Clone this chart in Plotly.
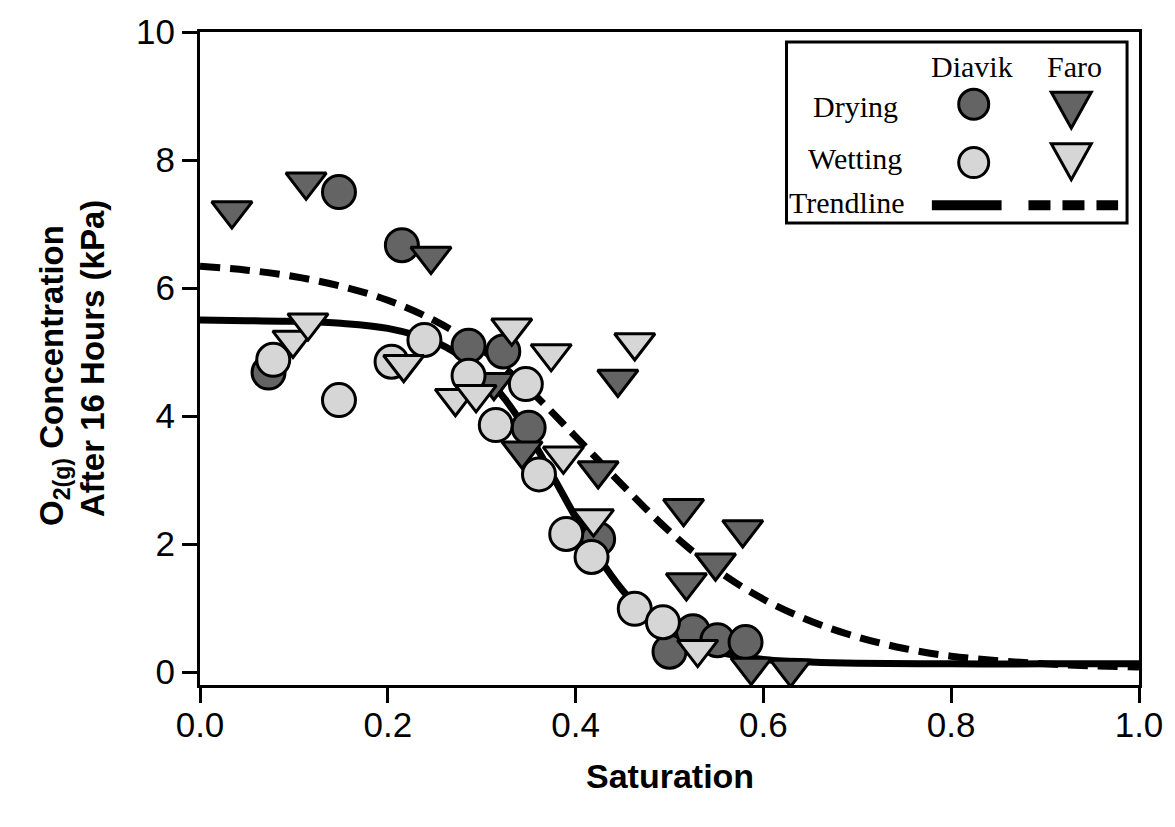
import plotly.graph_objects as go

# ---- data ----
diavik_dry_x = [0.073, 0.148, 0.215, 0.286, 0.323, 0.350, 0.424, 0.500, 0.525, 0.551, 0.581]
diavik_dry_y = [4.68, 7.50, 6.67, 5.10, 5.01, 3.82, 2.08, 0.32, 0.64, 0.50, 0.47]

diavik_wet_x = [0.078, 0.148, 0.204, 0.239, 0.286, 0.347, 0.315, 0.361, 0.390, 0.417, 0.463, 0.493]
diavik_wet_y = [4.88, 4.25, 4.85, 5.19, 4.63, 4.50, 3.86, 3.09, 2.16, 1.80, 0.99, 0.78]

faro_dry_x = [0.034, 0.113, 0.246, 0.313, 0.343, 0.424, 0.445, 0.515, 0.518, 0.549, 0.578, 0.587, 0.629]
faro_dry_y = [7.21, 7.66, 6.50, 4.53, 3.46, 3.15, 4.58, 2.56, 1.40, 1.71, 2.23, 0.08, 0.05]

faro_wet_x = [0.099, 0.115, 0.217, 0.272, 0.294, 0.332, 0.374, 0.387, 0.419, 0.463, 0.530]
faro_wet_y = [5.19, 5.46, 4.81, 4.28, 4.34, 5.38, 4.98, 3.38, 2.40, 5.15, 0.36]

diavik_trend_x = [0.00, 0.05, 0.10, 0.15, 0.20, 0.25, 0.275, 0.30, 0.325, 0.35, 0.375, 0.40,
                  0.425, 0.45, 0.475, 0.50, 0.525, 0.55, 0.60, 0.65, 0.70, 0.80, 0.90, 1.00]
diavik_trend_y = [5.50, 5.49, 5.48, 5.45, 5.37, 5.16, 4.96, 4.67, 4.26, 3.72, 3.08, 2.42,
                  1.79, 1.28, 0.89, 0.62, 0.44, 0.32, 0.20, 0.16, 0.14, 0.13, 0.13, 0.13]

faro_trend_x = [0.00, 0.05, 0.10, 0.15, 0.20, 0.25, 0.30, 0.35, 0.40, 0.45, 0.50, 0.55,
                0.60, 0.65, 0.70, 0.75, 0.80, 0.85, 0.90, 0.95, 1.00]
faro_trend_y = [6.34, 6.28, 6.18, 6.03, 5.81, 5.49, 5.04, 4.42, 3.68, 2.92, 2.20, 1.60,
                1.14, 0.80, 0.55, 0.37, 0.25, 0.18, 0.13, 0.10, 0.08]

x_ticks = [0.0, 0.2, 0.4, 0.6, 0.8, 1.0]
y_ticks = [0, 2, 4, 6, 8, 10]

DARK = "#646464"
LIGHT = "#d6d6d6"
SANS = "Liberation Sans, Arial, sans-serif"
SERIF = "Liberation Serif, Times New Roman, serif"

fig = go.Figure()

fig.add_trace(go.Scatter(x=diavik_trend_x, y=diavik_trend_y, mode="lines",
                         line=dict(color="black", width=7, shape="spline"),
                         showlegend=False, hoverinfo="skip"))
fig.add_trace(go.Scatter(x=faro_trend_x, y=faro_trend_y, mode="lines",
                         line=dict(color="black", width=7, dash="20px,10px", shape="spline"),
                         showlegend=False, hoverinfo="skip"))

mk_line = dict(color="black", width=3)
fig.add_trace(go.Scatter(x=diavik_dry_x, y=diavik_dry_y, mode="markers", showlegend=False,
                         marker=dict(symbol="circle", size=33, color=DARK, line=mk_line)))
fig.add_trace(go.Scatter(x=faro_dry_x, y=faro_dry_y, mode="markers", showlegend=False,
                         marker=dict(symbol="triangle-down", size=35, color=DARK, line=mk_line)))
fig.add_trace(go.Scatter(x=diavik_wet_x, y=diavik_wet_y, mode="markers", showlegend=False,
                         marker=dict(symbol="circle", size=33, color=LIGHT, line=mk_line)))
fig.add_trace(go.Scatter(x=faro_wet_x, y=faro_wet_y, mode="markers", showlegend=False,
                         marker=dict(symbol="triangle-down", size=35, color=LIGHT, line=mk_line)))

# ---- plot area geometry (pixels) ----
L, R, T, B = 200, 32, 25, 142
W, H = 1175, 827
PW, PH = W - L - R, H - T - B


def px(xp):
    return (xp - L) / PW


def py(yp):
    return (H - B - yp) / PH


shapes = []
annotations = []

# legend box
shapes.append(dict(type="rect", xref="paper", yref="paper",
                   x0=px(789), x1=px(1131), y0=py(218), y1=py(35),
                   line=dict(color="black", width=3), fillcolor="white", layer="above"))

leg_font = dict(family=SERIF, size=30, color="black")
for txt, xx, yy, anc in [("Diavik", 975, 60, "center"), ("Faro", 1078, 60, "center"),
                         ("Drying", 858, 100, "center"), ("Wetting", 858, 153, "center"),
                         ("Trendline", 790, 197, "left")]:
    annotations.append(dict(text=txt, x=px(xx), y=py(yy), xref="paper", yref="paper",
                            showarrow=False, font=leg_font, xanchor=anc, yanchor="middle"))

# legend glyphs
for cx, cy, col in [(977, 98, DARK), (977, 157, LIGHT)]:
    shapes.append(dict(type="circle", xref="paper", yref="paper",
                       xsizemode="pixel", ysizemode="pixel",
                       xanchor=px(cx), yanchor=py(cy), x0=-15, x1=15, y0=-15, y1=15,
                       fillcolor=col, line=dict(color="black", width=3), layer="above"))
for cx, cy, col in [(1075, 98, DARK), (1075, 150, LIGHT)]:
    shapes.append(dict(type="path", xref="paper", yref="paper",
                       xsizemode="pixel", ysizemode="pixel",
                       xanchor=px(cx), yanchor=py(cy),
                       path="M-20,12 L20,12 L0,-24 Z",
                       fillcolor=col, line=dict(color="black", width=3), layer="above"))
shapes.append(dict(type="line", xref="paper", yref="paper",
                   x0=px(935), x1=px(1005), y0=py(200), y1=py(200),
                   line=dict(color="black", width=10), layer="above"))
shapes.append(dict(type="line", xref="paper", yref="paper",
                   x0=px(1032), x1=px(1122), y0=py(200), y1=py(200),
                   line=dict(color="black", width=10, dash="22px,12px"), layer="above"))

# axis titles
annotations.append(dict(text="<b>Saturation</b>", x=0.5, y=py(777), xref="paper", yref="paper",
                        showarrow=False, font=dict(family=SANS, size=34, color="black"),
                        xanchor="center", yanchor="middle"))
annotations.append(dict(text="<b>O<sub>2(g)</sub> Concentration</b>",
                        x=px(54), y=py(372), xref="paper", yref="paper", textangle=-90,
                        showarrow=False, font=dict(family=SANS, size=33, color="black"),
                        xanchor="center", yanchor="middle"))
annotations.append(dict(text="<b>After 16 Hours (kPa)</b>",
                        x=px(92), y=py(355), xref="paper", yref="paper", textangle=-90,
                        showarrow=False, font=dict(family=SANS, size=33, color="black"),
                        xanchor="center", yanchor="middle"))

axis_common = dict(showline=True, linecolor="black", linewidth=3, mirror=True,
                   ticks="outside", ticklen=15, tickwidth=3, tickcolor="black",
                   showgrid=False, zeroline=False,
                   tickfont=dict(family=SANS, size=35, color="black"))

fig.update_layout(
    width=W, height=H,
    margin=dict(l=L, r=R, t=T, b=B),
    plot_bgcolor="white", paper_bgcolor="white",
    xaxis=dict(range=[0, 1], tickvals=x_ticks, ticktext=[f"{v:.1f}" for v in x_ticks],
               ticklabelstandoff=-8, **axis_common),
    yaxis=dict(range=[-0.2, 10], tickvals=y_ticks, ticktext=[str(v) for v in y_ticks],
               **axis_common),
    shapes=shapes, annotations=annotations,
)

fig.write_html("out.html")
